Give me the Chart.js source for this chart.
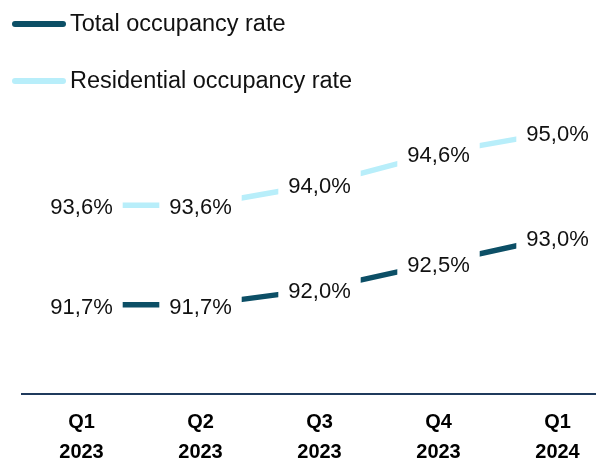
<!DOCTYPE html>
<html>
<head>
<meta charset="utf-8">
<script src="https://cdn.jsdelivr.net/npm/chart.js@4/dist/chart.umd.min.js"></script>
<style>
  body { margin: 0; background: #fff; }
  #wrap { position: relative; width: 596px; height: 458px; overflow: hidden; }
  #chart { position: absolute; left: 0; top: 0; }
  .leg { position: absolute; left: 12px; display: flex; align-items: center;
         font: 23.5px "Liberation Sans", Arial, sans-serif; color: #111; white-space: nowrap; }
  .leg span.sw { display: inline-block; width: 54px; height: 6px; border-radius: 3px; margin-right: 4px; }
</style>
</head>
<body>
<div id="wrap">
  <canvas id="chart" width="640" height="480"></canvas>
  <div class="leg" style="top:10px"><span class="sw" style="background:#0c4f66"></span>Total occupancy rate</div>
  <div class="leg" style="top:67px"><span class="sw" style="background:#b8eefa"></span>Residential occupancy rate</div>
</div>
<script>
const quarters = [['Q1', '2023'], ['Q2', '2023'], ['Q3', '2023'], ['Q4', '2023'], ['Q1', '2024']];
const totalRate = [91.7, 91.7, 92.0, 92.5, 93.0];
const residentialRate = [93.6, 93.6, 94.0, 94.6, 95.0];

const fmt = v => v.toFixed(1).replace('.', ',') + '%';

// white boxed labels drawn over the lines, centred on each point
const boxLabels = {
  id: 'boxLabels',
  afterDatasetsDraw(chart) {
    const ctx = chart.ctx;
    ctx.save();
    ctx.font = '22px "Liberation Sans", Arial, sans-serif';
    ctx.textAlign = 'center';
    ctx.textBaseline = 'middle';
    chart.data.datasets.forEach((ds, i) => {
      chart.getDatasetMeta(i).data.forEach((pt, j) => {
        const txt = fmt(ds.data[j]);
        const w = ctx.measureText(txt).width;
        const y = pt.y + 2;
        ctx.fillStyle = '#fff';
        ctx.fillRect(pt.x - w / 2 - 10, y - 16, w + 20, 32);
        ctx.fillStyle = '#111';
        ctx.fillText(txt, pt.x, y + 1);
      });
    });
    ctx.restore();
  }
};

new Chart(document.getElementById('chart'), {
  type: 'line',
  data: {
    labels: quarters,
    datasets: [
      { label: 'Total occupancy rate', data: totalRate, borderColor: '#0c4f66', borderWidth: 5.5,
        borderCapStyle: 'butt', pointRadius: 0, tension: 0 },
      { label: 'Residential occupancy rate', data: residentialRate, borderColor: '#b8eefa', borderWidth: 5.5,
        borderCapStyle: 'butt', pointRadius: 0, tension: 0 }
    ]
  },
  options: {
    responsive: false,
    devicePixelRatio: 1,
    animation: false,
    layout: { padding: { left: 22, right: 23, top: 27, bottom: 0 } },
    plugins: { legend: { display: false }, tooltip: { enabled: false } },
    scales: {
      x: {
        offset: true,
        grid: { display: false, drawTicks: false },
        border: { display: true, color: '#1f3a5c', width: 2 },
        ticks: {
          color: '#000',
          padding: 13,
          maxRotation: 0,
          font: { family: '"Liberation Sans", Arial, sans-serif', size: 20, weight: 'bold', lineHeight: 1.5 }
        }
      },
      y: { display: false, min: 90, max: 97 }
    }
  },
  plugins: [boxLabels]
});
</script>
</body>
</html>
